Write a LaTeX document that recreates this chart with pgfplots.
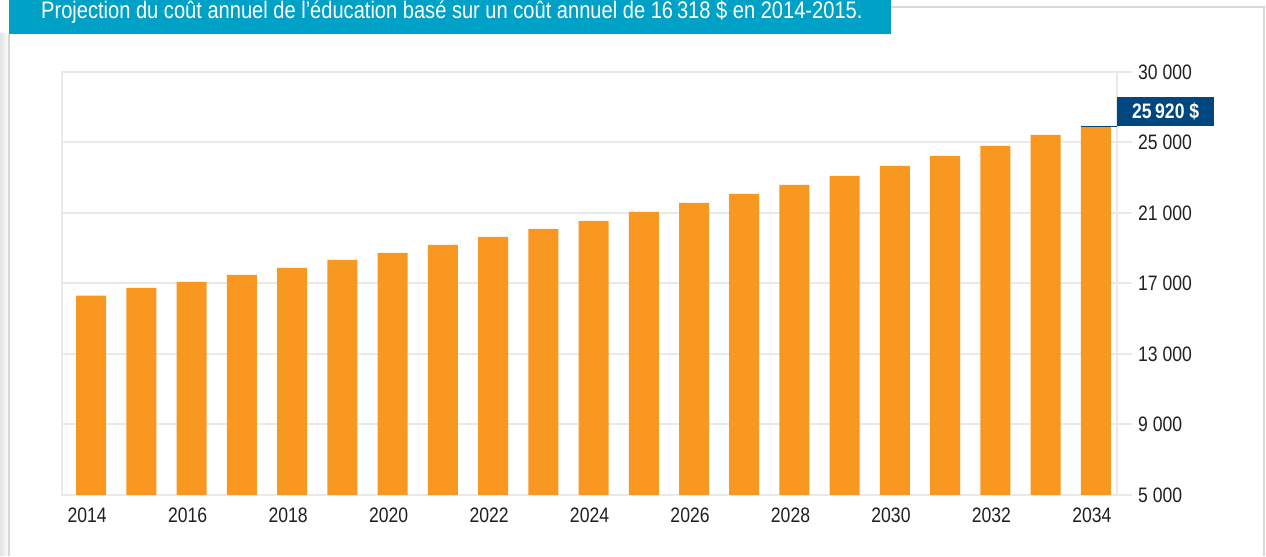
\documentclass[border=0pt]{standalone}
\usepackage{pgfplots}
\pgfplotsset{compat=1.18}
\usepackage{fontspec}
\setmainfont{Liberation Sans}
\newfontfamily\cond{Liberation Sans}[FakeStretch=0.84]
\definecolor{banner}{RGB}{0,161,199}
\definecolor{barorange}{RGB}{248,152,33}
\definecolor{navy}{RGB}{0,70,127}
\definecolor{gridgray}{RGB}{234,234,228}
\definecolor{framegray}{RGB}{216,216,206}
\definecolor{txt}{RGB}{35,31,32}
\pgfplotstableread{
year cost
2014 16318
2015 16745
2016 17085
2017 17482
2018 17879
2019 18333
2020 18730
2021 19184
2022 19638
2023 20092
2024 20546
2025 21057
2026 21567
2027 22078
2028 22589
2029 23099
2030 23667
2031 24234
2032 24801
2033 25426
2034 25920
}\costs
\begin{document}
\begin{tikzpicture}[x=1bp,y=1bp]
\path[fill=white] (0,0) rectangle (1266,556);
\shade[left color=gray!22, right color=white] (0,0) rectangle (9,522);
% frame
\draw[framegray, line width=2bp] (9,0) -- (9,522);
\draw[framegray, line width=2bp] (891,549) -- (1264,549) -- (1264,0);
% banner
\fill[banner] (9,522) rectangle (891,556);
\begin{scope}
\clip (9,522) rectangle (891,556);
\node[anchor=base west, text=white, inner sep=0pt, font=\cond\fontsize{24}{26}\selectfont] at (41,537) {Projection du coût annuel de l’éducation basé sur un coût annuel de 16\,318~\$ en 2014-2015.};
\end{scope}
\begin{axis}[
  at={(62bp,61bp)}, anchor=south west,
  scale only axis, width=1055bp, height=423bp,
  xmin=2013.42, xmax=2034.42, ymin=5000, ymax=29000,
  scaled y ticks=false, scaled x ticks=false,
  axis line style={gridgray, line width=2bp},
  ymajorgrids, grid style={gridgray, line width=2bp},
  ytick={5000,9000,13000,17000,21000,25000,29000},
  yticklabels={5 000,9 000,13 000,17 000,21 000,25 000,30 000},
  ytick pos=right, tick align=outside,
  ytick style={gridgray, line width=2bp},
  major tick length=15bp,
  yticklabel style={anchor=west, inner sep=0pt, xshift=6bp, text=txt, font=\cond\fontsize{21}{22}\selectfont},
  xtick={2014,2016,...,2034},
  xticklabels={2014,2016,2018,2020,2022,2024,2026,2028,2030,2032,2034},
  xtick pos=bottom,
  xtick style={draw=none},
  xticklabel style={anchor=north, inner sep=0pt, yshift=2bp, xshift=-4bp, text=txt, font=\cond\fontsize{21}{22}\selectfont},
  extra x ticks={2014.42,2015.42,2016.42,2017.42,2018.42,2019.42,2020.42,2021.42,2022.42,2023.42,2024.42,2025.42,2026.42,2027.42,2028.42,2029.42,2030.42,2031.42,2032.42,2033.42},
  extra x tick labels={},
  extra x tick style={tick align=inside, major tick length=6bp, tick style={draw=gridgray, line width=1.5bp}, grid=none},
  clip=false,
]
\addplot[ybar, bar width=30bp, fill=barorange, draw=none, bar shift=0pt] table[x=year, y=cost] {\costs};
\draw[navy, line width=1.5bp] (axis cs:2033.7,25920) -- (axis cs:2034.42,25920);
\node[fill=navy, text=white, anchor=south west, inner sep=0pt, minimum width=97bp, minimum height=29bp, font=\cond\bfseries\fontsize{21}{22}\selectfont] at (axis cs:2034.42,25920) {25\,920~\$};
\end{axis}
\end{tikzpicture}
\end{document}
